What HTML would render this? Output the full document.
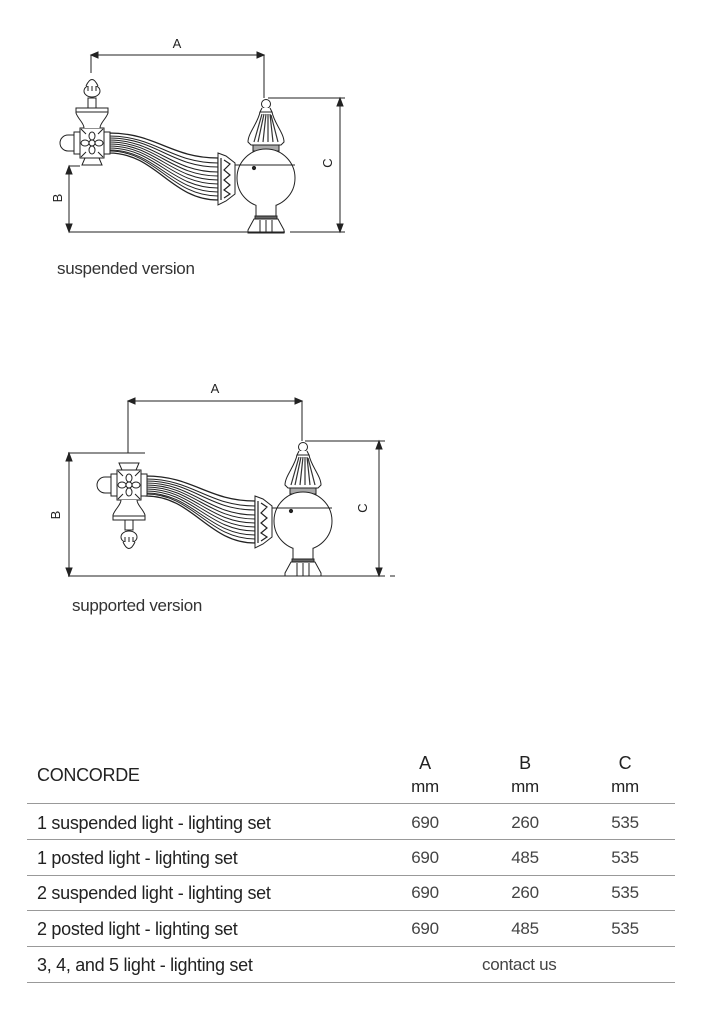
<!DOCTYPE html>
<html><head><meta charset="utf-8"><style>
body{margin:0;background:#fff;width:725px;height:1024px;position:relative;overflow:hidden;font-family:"Liberation Sans",sans-serif;color:#222}
.t{position:absolute;font-size:17px;white-space:nowrap;letter-spacing:-0.3px}
.c{text-align:center;width:80px;margin-left:-40px}
.hl{position:absolute;left:27px;width:648px;height:1px;background:#999}
</style></head><body>
<svg width="725" height="1024" style="position:absolute;left:0;top:0" fill="none" stroke="#222" stroke-width="1">
<defs>
<g id="lamp">
  <circle cx="0" cy="-74" r="4.5" fill="#fff"/>
  <path d="M-4,-70 L-6,-66 L6,-66 L4,-70" fill="#fff"/>
  <path d="M-6,-66 C-8,-55 -18,-45 -18,-36 L-15,-33 L15,-33 L18,-36 C18,-45 8,-55 6,-66 Z" fill="#fff"/>
  <path d="M-4,-64 L-12,-36 M-2,-64 L-8,-36 M0,-64 L-3,-36 M2,-64 L2,-36 M4,-64 L7,-36 M5,-63 L12,-36" stroke="#333" stroke-width="1.2"/>
  <rect x="-13" y="-33" width="26" height="6" fill="#aaa"/>
  <circle cx="0" cy="0" r="29" fill="#fff"/>
  <line x1="-31" y1="-13" x2="29" y2="-13"/>
  <circle cx="-12" cy="-10" r="1.6" fill="#222"/>
  <path d="M-10,27 L-10,40 L10,40 L10,27" fill="#fff"/>
  <rect x="-11" y="38" width="22" height="3" fill="#666"/>
  <path d="M-12,41 L-18,52 L-18,55 L18,55 L18,52 L12,41 Z" fill="#fff"/>
  <path d="M-6,42 L-6,55 M0,42 L0,55 M6,42 L6,55"/>
  <path d="M-48,-25 L-40,-22 L-31,-15 L-31,16 L-40,23 L-48,27 Z" fill="#fff"/>
  <path d="M-45,-20 L-45,22 M-42,-18 L-36,-14 L-42,-8 L-36,-3 L-42,2 L-36,7 L-42,12 L-36,16 L-42,20" stroke-width="1.2"/>
</g>
<g id="arm">
  <path d="M-157,-45 C-110,-45 -95,-20 -48,-20 L-48,22 C-95,22 -110,-25 -157,-25 Z" fill="#fff" stroke-width="1.3"/>
  <path d="M-157,-42 C-110,-42 -95,-15 -48,-15"/>
  <path d="M-157,-40 C-110,-40 -95,-11 -48,-11"/>
  <path d="M-157,-38 C-110,-38 -95,-6 -48,-6"/>
  <path d="M-157,-36 C-110,-36 -95,-2 -48,-2"/>
  <path d="M-157,-34 C-110,-34 -95,2 -48,2"/>
  <path d="M-157,-32 C-110,-32 -95,6 -48,6"/>
  <path d="M-157,-30 C-110,-30 -95,10 -48,10"/>
  <path d="M-157,-28 C-110,-28 -95,14 -48,14"/>
  <path d="M-157,-27 C-110,-27 -95,18 -48,18"/>
</g>
<g id="left">
  <rect x="-12" y="-15" width="24" height="30" fill="#fff"/>
  <circle cx="0" cy="0" r="3"/>
  <ellipse cx="0" cy="-7" rx="3" ry="4"/><ellipse cx="0" cy="7" rx="3" ry="4"/>
  <ellipse cx="-7" cy="0" rx="4" ry="3"/><ellipse cx="7" cy="0" rx="4" ry="3"/>
  <path d="M-11,-14 L-6,-9 M11,-14 L6,-9 M-11,14 L-6,9 M11,14 L6,9"/>
  <rect x="12" y="-11" width="6" height="22" fill="#fff"/>
  <rect x="-18" y="-11" width="6" height="22" fill="#fff"/>
  <path d="M-18,-8 L-24,-8 A8,8 0 0 0 -24,8 L-18,8 Z" fill="#fff"/>
  <path d="M-8,-15 C-8,-20 -14,-24 -16,-30 L-16,-35 L16,-35 L16,-30 C14,-24 8,-20 8,-15" fill="#fff"/>
  <line x1="-16" y1="-31" x2="16" y2="-31"/>
  <rect x="-4" y="-45" width="8" height="10" fill="#fff"/>
  <ellipse cx="0" cy="-52" rx="8" ry="6" fill="#fff"/>
  <path d="M-4,-52 L-4,-57 M0,-52 L0,-58 M4,-52 L4,-57"/>
  <path d="M-6,-57 Q0,-70 6,-57" fill="#fff"/>
  <path d="M-7,15 L-10,22 L10,22 L7,15"/>
</g>
</defs>
<!-- diagram 1 -->
<g transform="translate(266,178)"><use href="#arm"/><use href="#lamp"/></g>
<g transform="translate(92,143)"><use href="#left"/></g>
<path d="M91,73 V55 H264 V98"/>
<path d="M91,55 l7,-3 v6z M264,55 l-7,-3 v6z" fill="#222"/>
<path d="M268,98 H345 M69,232 H285 M290,232 H345 M69,166 H80"/>
<path d="M340,98 V232 M69,166 V232"/>
<path d="M340,98 l-3,8 h6z M340,232 l-3,-8 h6z M69,166 l-3,8 h6z M69,232 l-3,-8 h6z" fill="#222"/>
<!-- diagram 2 -->
<g transform="translate(303,521)"><use href="#arm"/><use href="#lamp"/></g>
<g transform="translate(129,485) scale(1,-1)"><use href="#left"/></g>
<path d="M128,453 V401 H302 V441"/>
<path d="M128,401 l7,-3 v6z M302,401 l-7,-3 v6z" fill="#222"/>
<path d="M305,441 H385 M68,453 H145 M68,576 H285 M290,576 H385 M390,576 H395"/>
<path d="M379,441 V576 M69,453 V576"/>
<path d="M379,441 l-3,8 h6z M379,576 l-3,-8 h6z M69,453 l-3,8 h6z M69,576 l-3,-8 h6z" fill="#222"/>
<g fill="#222" stroke="none" font-family="Liberation Sans" font-size="13">
<text x="177" y="48" text-anchor="middle">A</text>
<text x="215" y="393" text-anchor="middle">A</text>
<text transform="translate(62,198) rotate(-90)" text-anchor="middle">B</text>
<text transform="translate(332,163) rotate(-90)" text-anchor="middle">C</text>
<text transform="translate(60,515) rotate(-90)" text-anchor="middle">B</text>
<text transform="translate(367,508) rotate(-90)" text-anchor="middle">C</text>
</g>
</svg>
<div class="t" style="left:57px;top:259px;color:#333">suspended version</div>
<div class="t" style="left:72px;top:596px;color:#333">supported version</div>

<div class="t" style="left:37px;top:765px;font-size:18px">CONCORDE</div>
<div class="t c" style="left:425px;top:753px;font-size:18px">A</div>
<div class="t c" style="left:525px;top:753px;font-size:18px">B</div>
<div class="t c" style="left:625px;top:753px;font-size:18px">C</div>
<div class="t c" style="left:425px;top:777px">mm</div>
<div class="t c" style="left:525px;top:777px">mm</div>
<div class="t c" style="left:625px;top:777px">mm</div>
<div class="hl" style="top:803px"></div>
<div class="t" style="left:37px;top:813px;font-size:18px">1 suspended light - lighting set</div>
<div class="t c" style="left:425px;top:813px;color:#444">690</div><div class="t c" style="left:525px;top:813px;color:#444">260</div><div class="t c" style="left:625px;top:813px;color:#444">535</div>
<div class="hl" style="top:839px"></div>
<div class="t" style="left:37px;top:848px;font-size:18px">1 posted light - lighting set</div>
<div class="t c" style="left:425px;top:848px;color:#444">690</div><div class="t c" style="left:525px;top:848px;color:#444">485</div><div class="t c" style="left:625px;top:848px;color:#444">535</div>
<div class="hl" style="top:875px"></div>
<div class="t" style="left:37px;top:883px;font-size:18px">2 suspended light - lighting set</div>
<div class="t c" style="left:425px;top:883px;color:#444">690</div><div class="t c" style="left:525px;top:883px;color:#444">260</div><div class="t c" style="left:625px;top:883px;color:#444">535</div>
<div class="hl" style="top:910px"></div>
<div class="t" style="left:37px;top:919px;font-size:18px">2 posted light - lighting set</div>
<div class="t c" style="left:425px;top:919px;color:#444">690</div><div class="t c" style="left:525px;top:919px;color:#444">485</div><div class="t c" style="left:625px;top:919px;color:#444">535</div>
<div class="hl" style="top:946px"></div>
<div class="t" style="left:37px;top:955px;font-size:18px">3, 4, and 5 light - lighting set</div>
<div class="t" style="left:482px;top:955px;color:#444">contact us</div>
<div class="hl" style="top:982px"></div>
</body></html>
